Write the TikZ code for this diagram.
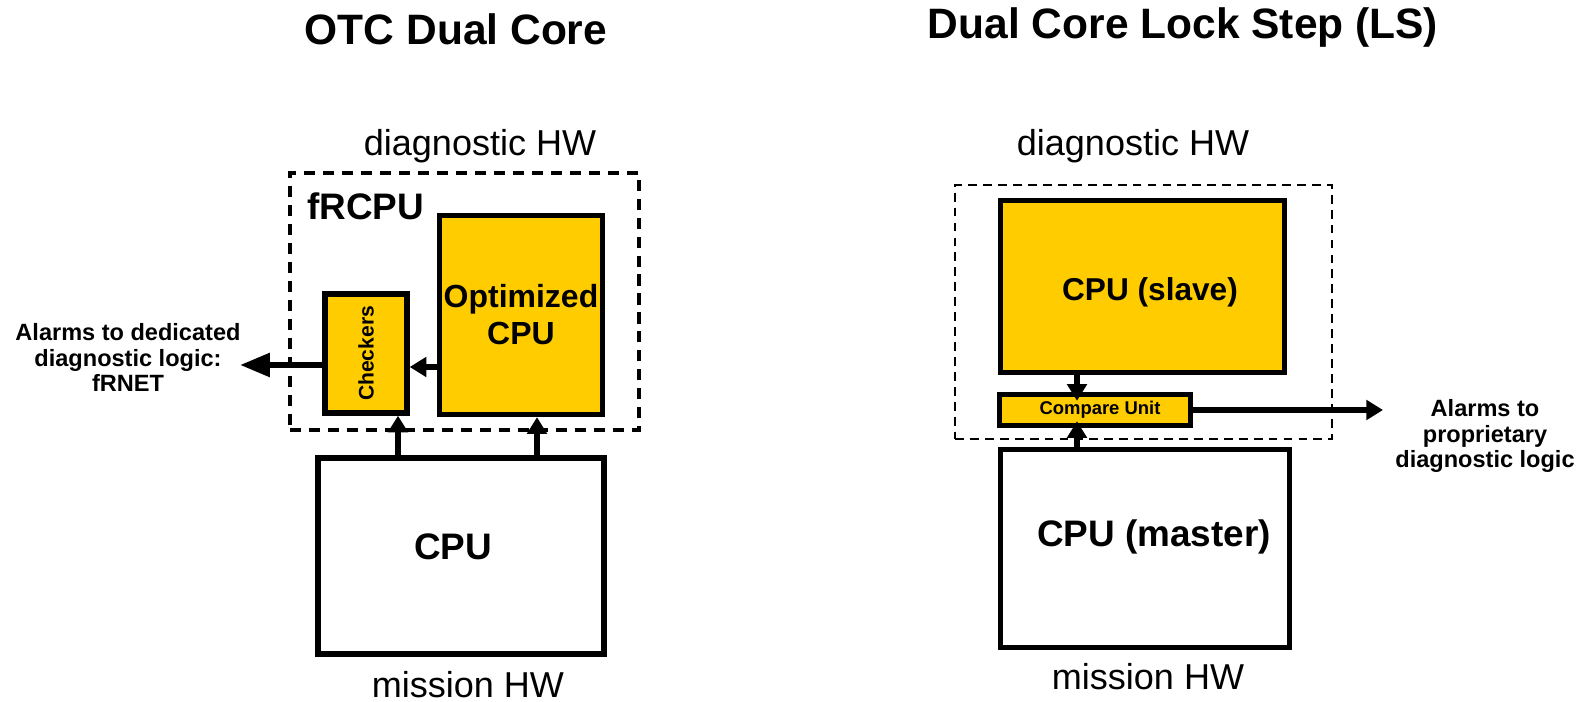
\documentclass[tikz,border=0pt]{standalone}
\usepackage{fontspec}
\setmainfont{Liberation Sans}
\usetikzlibrary{arrows.meta,positioning}
\definecolor{giallo}{HTML}{FFCC00}

\begin{document}
\begin{tikzpicture}[x=0.02cm,y=-0.02cm]
\tikzset{base/.style={text=black, align=center, draw, line width=3.1pt, inner sep=0pt}, }
\tikzset{titolo/.style={font=\fontsize{24.2}{29}\selectfont\bfseries, inner sep=0pt}, }
\tikzset{hw/.style={font=\fontsize{20.5}{24}\selectfont, inner sep=0pt}, }
\tikzset{core node/.style={base, fill=giallo}, }
\tikzset{main node/.style={base, fill=white}, }
\tikzset{testo/.style={font=\fontsize{21}{25}\selectfont\bfseries, inner sep=0pt}, }
\tikzset{diag node/.style={draw, line width=2.3pt, dash pattern=on 6.3pt off 4.5pt, inner sep=0pt}, }
\tikzset{diag2 node/.style={draw, line width=1.4pt, dash pattern=on 5pt off 3.5pt, inner sep=0pt}, }
\tikzset{allarme/.style={font=\fontsize{13.4}{14.5}\selectfont\bfseries, align=center, inner sep=0pt}, }
\tikzset{linea/.style={line width=3.4pt, -{Triangle[length=9.5pt,width=11pt]}}, }
\tikzset{lineagrande/.style={line width=3.4pt, -{Triangle[length=17pt,width=13pt]}}, }

\useasboundingbox (0,0) rectangle (1579,702);

% OTC dual core
\node[titolo, anchor=base] (titolo1) at (456,44.5) {OTC Dual Core};
\node[hw, anchor=base] (diag1) at (480,156) {diagnostic HW};
\node[diag node, minimum width=6.98cm, minimum height=5.14cm] (frcpu) at (464.5,301.5) {};
\node[testo, anchor=base west] (nomefr) at (307,220) {fRCPU};
\node[core node, minimum width=3.26cm, minimum height=3.98cm, font=\fontsize{18.2}{21}\selectfont\bfseries] (ottim) at (521,315) {Optimized\\CPU};
\node[core node, minimum width=1.64cm, minimum height=2.38cm, font=\fontsize{12}{14}\selectfont\bfseries] (contr) at (366,353.5) {\rotatebox{90}{Checkers}};
\node[main node, minimum width=5.72cm, minimum height=3.92cm] (cpu) at (461,556) {};
\node[testo] (tcpu) at ([shift={(-8,-9)}]cpu.center) {CPU};
\node[hw, anchor=base] (miss1) at (468,697) {mission HW};
\node[allarme] (all1) at (128,357.5) {Alarms to dedicated\\diagnostic logic:\\fRNET};
\coordinate (l1) at (240,365);

\draw[linea] ([shift={(0,52)}]ottim.west) -- ([shift={(0,13.5)}]contr.east);
\draw[lineagrande] ([shift={(0,11.5)}]contr.west) -- (l1);
\draw[linea] ([shift={(-63,0)}]cpu.north) -- ([shift={(32,0)}]contr.south);
\draw[linea] ([shift={(76,0)}]cpu.north) -- ([shift={(16,0)}]ottim.south);

% lock step
\node[titolo, anchor=base] (titolo2) at (1183,38.5) {Dual Core Lock Step (LS)};
\node[hw, anchor=base] (diag2) at (1133,156) {diagnostic HW};
\node[diag2 node, minimum width=7.54cm, minimum height=5.08cm] (ls) at (1143.5,312) {};
\node[core node, minimum width=5.68cm, minimum height=3.44cm] (schiava) at (1142.5,286.5) {};
\node[testo, font=\fontsize{18}{21}\selectfont\bfseries] (tschiava) at ([shift={(7.5,5.5)}]schiava.center) {CPU (slave)};
\node[core node, minimum width=3.82cm, minimum height=0.62cm, font=\fontsize{10.5}{12}\selectfont\bfseries] (confr) at (1095,410) {\hspace*{0.2cm}Compare Unit};
\node[main node, minimum width=5.78cm, minimum height=3.96cm] (master) at (1145,548.5) {};
\node[testo] (tmaster) at ([shift={(9,-12)}]master.center) {CPU (master)};
\node[hw, anchor=base] (miss2) at (1148,689) {mission HW};
\node[allarme] (all2) at (1485,436) {Alarms to\\proprietary\\diagnostic logic};
\coordinate (r1) at (1383,410);

\draw[linea] ([shift={(-65.5,0)}]schiava.south) -- ([shift={(-18,9)}]confr.north);
\draw[linea] ([shift={(-68,0)}]master.north) -- ([shift={(-18,-7)}]confr.south);
\draw[linea] (confr.east) -- (r1);
\end{tikzpicture}
\end{document}
